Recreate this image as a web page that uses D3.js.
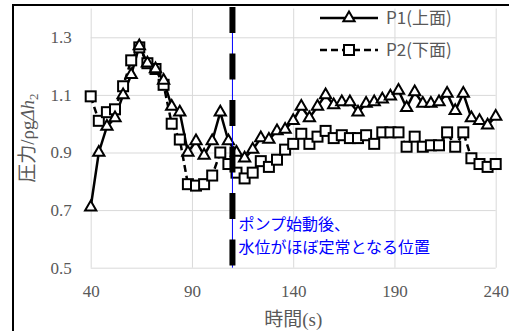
<!DOCTYPE html>
<meta charset="utf-8">
<style>
body { margin: 0; background: white; }
svg { display: block; }
.tick text { fill: #595959; font-family: "Liberation Serif", "Noto Sans CJK JP", serif; font-size: 17px; }
.grid line { stroke: #d9d9d9; stroke-width: 1; }
.grid .domain { display: none; }
</style>
<body>
<script src="https://cdn.jsdelivr.net/npm/d3@7"></script>
<script>
// data (time step 4 s)
var times = [40, 44, 48, 52, 56, 60, 64, 68, 72, 76, 80, 84, 88, 92, 96, 100,
             104, 108, 112, 116, 120, 124, 128, 132, 136, 140, 144, 148, 152, 156,
             160, 164, 168, 172, 176, 180, 184, 188, 192, 196, 200, 204, 208, 212,
             216, 220, 224, 228, 232, 236, 240];
var p1 = [0.71, 0.90, 0.99, 1.02, 1.10, 1.17, 1.27, 1.21, 1.19, 1.15, 1.06, 1.04, 0.90, 0.94, 0.89, 0.94,
          1.04, 0.94, 0.90, 0.88, 0.91, 0.95, 0.945, 0.975, 0.98, 1.01, 1.06, 1.02, 1.06, 1.10,
          1.065, 1.075, 1.075, 1.04, 1.07, 1.075, 1.085, 1.095, 1.115, 1.055, 1.11, 1.07, 1.07, 1.075,
          1.105, 1.045, 1.105, 1.02, 1.01, 0.995, 1.025];
var p2 = [1.095, 1.01, 1.04, 1.05, 1.13, 1.22, 1.265, 1.21, 1.19, 1.135, 1.00, 0.945, 0.79, 0.785, 0.79, 0.82,
          0.90, 0.86, 0.83, 0.81, 0.83, 0.87, 0.85, 0.875, 0.91, 0.93, 0.965, 0.93, 0.955, 0.975,
          0.95, 0.96, 0.95, 0.95, 0.96, 0.93, 0.97, 0.97, 0.97, 0.92, 0.955, 0.92, 0.925, 0.925,
          0.97, 0.92, 0.97, 0.88, 0.86, 0.85, 0.86];
var xTicks = [40, 90, 140, 190, 240];
var yTicks = [0.5, 0.7, 0.9, 1.1, 1.3];
var seriesNames = ["P1(上面)", "P2(下面)"];
var pumpTime = 110;
var noteLines = ["ポンプ始動後、", "水位がほぼ定常となる位置"];

var W = 509, H = 331;
var margin = {top: 8.5, left: 90.7},
    width = 405,
    height = 259.2;

var svg = d3.select("body").append("svg")
    .attr("width", W)
    .attr("height", H);

// outer chart frame
svg.append("rect")
    .attr("x", 13).attr("y", 5)
    .attr("width", W + 20).attr("height", H + 20)
    .attr("fill", "none")
    .attr("stroke", "black")
    .attr("stroke-width", 2);

var g = svg.append("g")
    .attr("transform", "translate(" + margin.left + "," + margin.top + ")");

var x = d3.scaleLinear().domain([40, 240]).range([0, width]);
var y = d3.scaleLinear().domain([0.5, 1.4]).range([height, 0]);

// gridlines + tick labels
g.append("g")
    .attr("class", "grid")
    .call(d3.axisLeft(y).tickValues(yTicks).tickSize(-width).tickPadding(19)
      .tickFormat(d3.format(".1f")));
g.append("g")
    .attr("class", "grid")
    .attr("transform", "translate(0," + height + ")")
    .call(d3.axisBottom(x).tickValues(xTicks).tickSize(-height).tickPadding(17));

// axis titles
svg.append("text")
    .attr("x", margin.left + width / 2)
    .attr("y", 326)
    .attr("text-anchor", "middle")
    .attr("fill", "#595959")
    .style("font-family", "'Liberation Serif', 'Noto Sans CJK JP', serif")
    .style("font-size", "19px")
    .text("時間(s)");

var yt = svg.append("text")
    .attr("transform", "translate(34," + (margin.top + height / 2) + ") rotate(-90)")
    .attr("text-anchor", "middle")
    .attr("fill", "#595959")
    .style("font-family", "'Liberation Serif', 'Noto Sans CJK JP', serif")
    .style("font-size", "19px");
yt.append("tspan").text("圧力/ρg");
yt.append("tspan").style("font-style", "italic").text("Δh");
yt.append("tspan").attr("dy", 4).style("font-size", "13px").text("2");

// series
var d1 = times.map(function(t, i) { return {t: t, v: p1[i]}; });
var d2 = times.map(function(t, i) { return {t: t, v: p2[i]}; });
var line = d3.line()
    .x(function(d) { return x(d.t); })
    .y(function(d) { return y(d.v); });

g.append("path").datum(d1)
    .attr("d", line)
    .attr("fill", "none")
    .attr("stroke", "black")
    .attr("stroke-width", 2.5);
g.append("path").datum(d2)
    .attr("d", line)
    .attr("fill", "none")
    .attr("stroke", "black")
    .attr("stroke-width", 2.5)
    .attr("stroke-dasharray", "7,4");

var tri = d3.symbol().type(d3.symbolTriangle).size(55);
g.selectAll(".sq").data(d2).enter().append("rect")
    .attr("class", "sq")
    .attr("x", function(d) { return x(d.t) - 5; })
    .attr("y", function(d) { return y(d.v) - 5; })
    .attr("width", 10).attr("height", 10)
    .attr("fill", "white")
    .attr("stroke", "black")
    .attr("stroke-width", 2);
g.selectAll(".tri").data(d1).enter().append("path")
    .attr("class", "tri")
    .attr("d", tri)
    .attr("transform", function(d) { return "translate(" + x(d.t) + "," + y(d.v) + ")"; })
    .attr("fill", "white")
    .attr("stroke", "black")
    .attr("stroke-width", 2);

// pump start marker
g.append("line")
    .attr("x1", x(pumpTime)).attr("x2", x(pumpTime))
    .attr("y1", -1.5).attr("y2", height)
    .attr("stroke", "#0000ff")
    .attr("stroke-width", 1);
g.append("line")
    .attr("x1", x(pumpTime)).attr("x2", x(pumpTime))
    .attr("y1", -1.5).attr("y2", height)
    .attr("stroke", "black")
    .attr("stroke-width", 6)
    .attr("stroke-dasharray", "26,20.5");

var note = g.append("text")
    .attr("fill", "#0000ff")
    .style("font-family", "'Noto Sans CJK JP', sans-serif")
    .style("font-size", "16px");
note.selectAll("tspan").data(noteLines).enter().append("tspan")
    .attr("x", x(pumpTime) + 6)
    .attr("y", function(d, i) { return 221 + i * 23; })
    .text(function(d) { return d; });

// legend
var legend = svg.append("g");
var leg = legend.selectAll("g").data(seriesNames).enter().append("g")
    .attr("transform", function(d, i) { return "translate(320," + (18 + i * 32) + ")"; });
leg.append("line")
    .attr("x1", 0).attr("x2", 58)
    .attr("stroke", "black")
    .attr("stroke-width", 2.5)
    .attr("stroke-dasharray", function(d, i) { return i ? "7,4" : null; });
leg.each(function(d, i) {
  var s = d3.select(this);
  if (i === 0) {
    s.append("path").attr("d", tri).attr("transform", "translate(29,0)")
      .attr("fill", "white").attr("stroke", "black").attr("stroke-width", 2);
  } else {
    s.append("rect").attr("x", 24).attr("y", -5).attr("width", 10).attr("height", 10)
      .attr("fill", "white").attr("stroke", "black").attr("stroke-width", 2);
  }
});
leg.append("text")
    .attr("x", 66).attr("y", 6)
    .attr("fill", "#595959")
    .style("font-family", "'Noto Sans CJK JP', sans-serif")
    .style("font-size", "17px")
    .text(function(d) { return d; });
</script>
</body>
